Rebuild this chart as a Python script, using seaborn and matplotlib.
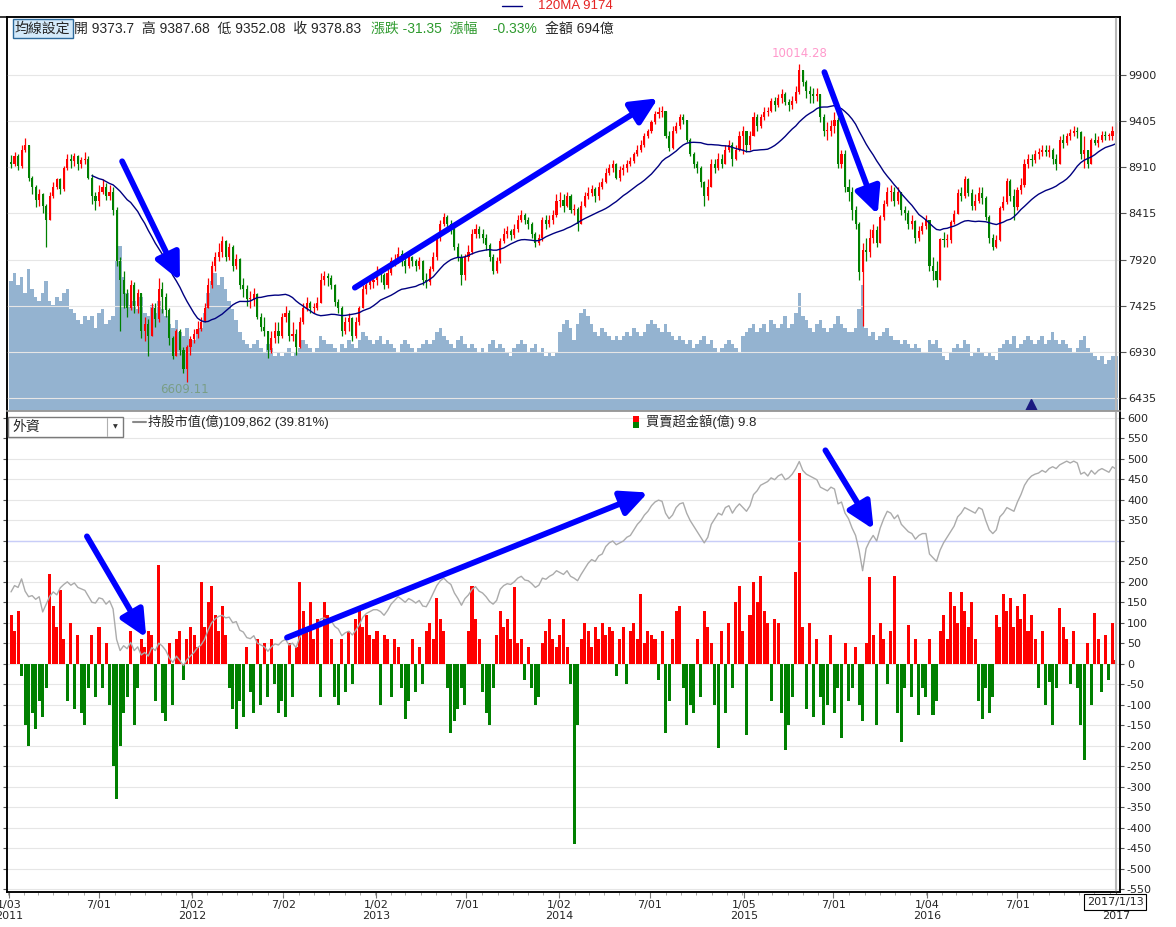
import numpy as np
import pandas as pd
import matplotlib
matplotlib.use("Agg")
import matplotlib.pyplot as plt
import matplotlib.dates as mdates
from matplotlib.patches import Rectangle
from matplotlib.lines import Line2D
import seaborn as sns

# --- weekly values (one entry per Friday) ---
first_open = 8972

close_2011 = [8950, 9030, 8930, 9100, 9150, 8800, 8700, 8560, 8620, 8500, 8350, 8600, 8700, 8780, 8680, 8900, 9000,
              8980, 9030, 8950, 8990, 9000, 8800, 8600, 8550, 8650, 8700, 8600, 8650, 8450, 7900, 7700, 7550, 7400,
              7650, 7420, 7560, 7150, 7230, 7100, 7400, 7280, 7600, 7520, 7380, 7080, 6880, 7150, 6950, 6750, 6980, 7070]
high_2011 = [9040, 9080, 9050, 9150, 9220, 9150, 8820, 8720, 8680, 8640, 8520, 8650, 8750, 8800, 8800, 8920, 9050,
             9050, 9060, 9040, 9020, 9070, 9030, 8840, 8650, 8720, 8780, 8740, 8720, 8700, 8480, 7950, 7800, 7600,
             7700, 7680, 7600, 7560, 7300, 7280, 7450, 7450, 7720, 7680, 7560, 7400, 7100, 7170, 7180, 6980, 7000, 7100]
low_2011 = [8900, 8920, 8880, 8900, 9080, 8760, 8620, 8480, 8500, 8420, 8050, 8350, 8580, 8680, 8620, 8660, 8880,
            8900, 8920, 8880, 8900, 8950, 8780, 8520, 8450, 8500, 8620, 8560, 8560, 8400, 7850, 7150, 7400, 7300,
            7380, 7350, 7350, 7080, 7050, 6880, 7100, 7200, 7250, 7350, 7300, 7000, 6850, 6880, 6900, 6700, 6609.11, 6900]
vol_2011 = [1650, 1750, 1600, 1700, 1500, 1800, 1550, 1450, 1400, 1500, 1650, 1400, 1350, 1450, 1400, 1500, 1550,
            1300, 1250, 1150, 1100, 1200, 1150, 1200, 1050, 1250, 1300, 1100, 1150, 1200, 1900, 2100, 1700, 1500,
            1350, 1400, 1300, 1450, 1250, 1200, 1350, 1250, 1400, 1300, 1200, 1100, 1050, 1150, 1000, 950, 1050, 900]
net_2011 = [120, 80, 130, -30, -150, -200, -120, -160, -90, -130, -60, 220, 140, 90, 180, 60, -90, 100, -110, 70,
            -120, -150, -60, 70, -80, 90, -60, 50, -100, -250, -330, -200, -120, -80, 80, -150, -60, 60, 40, 80, 70,
            -90, 240, -120, -140, 50, -100, 60, 80, -40, 60, 90]
hold_2011 = [76800, 78500, 78000, 80300, 77000, 75500, 75800, 74800, 75500, 71400, 73500, 75600, 76800, 76000, 77900,
             78800, 79500, 78600, 79200, 78000, 77600, 77200, 75600, 74000, 73800, 75200, 74900, 73500, 74400, 72200,
             64000, 61000, 62300, 61500, 63200, 61000, 62000, 59800, 60500, 59500, 61800, 61000, 63000, 62200, 61000,
             59000, 57800, 59500, 58300, 57000, 58500, 59600]

close_2012 = [7120, 7180, 7250, 7400, 7650, 7850, 7950, 8000, 8120, 7950, 8050, 7850, 7930, 7650, 7600, 7500, 7500,
              7550, 7300, 7200, 7150, 6950, 7080, 7150, 7100, 7300, 7350, 7100, 7120, 6980, 7250, 7400, 7450, 7400,
              7400, 7450, 7700, 7740, 7720, 7650, 7470, 7400, 7150, 7250, 7290, 7100, 7250, 7400, 7600, 7650, 7680, 7700]
high_2012 = [7180, 7260, 7300, 7450, 7720, 7900, 8000, 8100, 8170, 8130, 8100, 8080, 7980, 7940, 7720, 7650, 7580,
             7620, 7560, 7350, 7300, 7150, 7150, 7250, 7250, 7350, 7420, 7380, 7250, 7180, 7300, 7450, 7520, 7480,
             7450, 7520, 7780, 7800, 7780, 7760, 7660, 7500, 7420, 7300, 7350, 7300, 7300, 7420, 7650, 7720, 7720, 7740]
low_2012 = [7020, 7080, 7150, 7250, 7420, 7620, 7800, 7900, 7950, 7900, 7920, 7800, 7820, 7600, 7520, 7420, 7400,
            7420, 7280, 7150, 7100, 6860, 6920, 7020, 7020, 7080, 7250, 7050, 7050, 6900, 6970, 7230, 7370, 7350,
            7350, 7380, 7450, 7650, 7640, 7600, 7420, 7350, 7100, 7120, 7150, 7050, 7080, 7220, 7400, 7550, 7600, 7620]
vol_2012 = [900, 1000, 1050, 1250, 1500, 1650, 1750, 1600, 1700, 1550, 1400, 1300, 1150, 1000, 900, 850, 800, 850,
            900, 800, 750, 850, 800, 700, 750, 700, 750, 800, 700, 750, 800, 900, 850, 800, 750, 800, 950, 900, 850,
            850, 800, 750, 850, 800, 900, 850, 800, 900, 1000, 950, 900, 850]
net_2012 = [70, 40, 200, 90, 150, 190, 120, 80, 140, 70, -60, -110, -160, -90, -130, 40, -70, -120, 60, -100, 50,
            -80, 60, -50, -120, -90, -130, 50, -80, 40, 200, 130, 90, 150, 60, 110, -80, 150, 120, 60, -80, -100, 60,
            -70, 80, -50, 110, 140, 90, 120, 70, 60]
hold_2012 = [60500, 61800, 62500, 64000, 66500, 68500, 69500, 70200, 70500, 69800, 70000, 68500, 68800, 66500, 66000,
             64500, 64200, 65000, 63000, 62500, 62000, 60800, 62000, 62800, 62500, 63500, 64000, 62500, 63000, 61800,
             64500, 66000, 67000, 66500, 67200, 67800, 69500, 69800, 69200, 69000, 67500, 66800, 65000, 65800, 66200,
             65200, 66500, 68000, 70000, 71000, 71500, 72000]

close_2013 = [7800, 7760, 7650, 7780, 7900, 7920, 7980, 7900, 7850, 7950, 7900, 7850, 7900, 7700, 7680, 7820, 7950,
              8150, 8300, 8380, 8300, 8250, 8050, 7950, 7750, 7950, 8000, 8200, 8250, 8200, 8150, 8080, 7950, 7800,
              7900, 8120, 8200, 8230, 8180, 8250, 8350, 8400, 8350, 8300, 8200, 8100, 8150, 8350, 8300, 8350, 8400, 8550]
high_2013 = [7850, 7830, 7780, 7820, 7950, 7980, 8050, 8020, 7950, 7980, 7960, 7930, 7950, 7920, 7780, 7850, 8000,
             8200, 8350, 8420, 8400, 8350, 8280, 8100, 7980, 7980, 8080, 8250, 8300, 8280, 8250, 8200, 8100, 7980,
             7950, 8150, 8260, 8280, 8250, 8300, 8400, 8450, 8420, 8380, 8320, 8220, 8200, 8380, 8400, 8400, 8450, 8620]
low_2013 = [7650, 7680, 7600, 7620, 7760, 7850, 7880, 7850, 7780, 7830, 7850, 7800, 7820, 7650, 7620, 7650, 7800,
            7920, 8120, 8280, 8220, 8200, 8020, 7900, 7650, 7700, 7900, 7980, 8150, 8150, 8100, 8020, 7900, 7770,
            7780, 7880, 8100, 8150, 8130, 8150, 8220, 8320, 8300, 8250, 8150, 8050, 8080, 8120, 8250, 8270, 8300, 8380]
vol_2013 = [900, 950, 850, 900, 850, 800, 750, 850, 900, 850, 800, 750, 800, 850, 900, 850, 900, 1000, 1050, 950,
            900, 850, 800, 900, 950, 850, 800, 850, 800, 750, 800, 750, 850, 900, 800, 850, 800, 750, 700, 800, 850,
            900, 850, 750, 800, 850, 750, 800, 700, 750, 700, 750]
net_2013 = [80, -100, 70, 60, -80, 60, 40, -60, -135, -90, 60, -70, 40, -50, 80, 100, 60, 160, 110, 80, -60, -170,
            -140, -110, -60, -100, 80, 190, 110, 60, -70, -120, -150, -60, 70, 130, 90, 110, 60, 188, 50, 60, -40, 40,
            -60, -100, -80, 50, 80, 110, 60, 40]
hold_2013 = [72000, 71500, 70500, 71800, 73500, 74500, 75500, 74800, 74000, 75000, 74500, 73800, 74500, 73000, 72800,
             74500, 76500, 78500, 79800, 80500, 79500, 78800, 76500, 75000, 73200, 75000, 76000, 77500, 78200, 77000,
             76500, 75500, 74200, 73500, 74500, 77500, 78500, 79000, 78800, 79500, 80500, 81000, 80000, 79800, 79000,
             78000, 78600, 80500, 80200, 81000, 81500, 82500]

close_2014 = [8560, 8500, 8600, 8450, 8460, 8300, 8500, 8600, 8640, 8680, 8600, 8700, 8750, 8850, 8900, 8950, 8800,
              8880, 8900, 8950, 8980, 9050, 9100, 9150, 9250, 9300, 9400, 9480, 9500, 9520, 9250, 9120, 9300, 9350,
              9450, 9420, 9200, 9050, 8950, 8900, 8750, 8600, 8700, 8950, 8900, 9000, 8950, 9100, 9150, 9000, 9100, 9250]
high_2014 = [8650, 8620, 8650, 8620, 8520, 8480, 8550, 8650, 8700, 8720, 8700, 8750, 8800, 8900, 8950, 8990, 8960,
             8920, 8950, 8990, 9020, 9080, 9150, 9200, 9280, 9320, 9420, 9520, 9560, 9570, 9520, 9300, 9350, 9400,
             9480, 9480, 9420, 9220, 9080, 8980, 8920, 8760, 8780, 9000, 9000, 9060, 9050, 9150, 9200, 9180, 9150, 9300]
low_2014 = [8480, 8430, 8480, 8420, 8400, 8230, 8300, 8480, 8570, 8600, 8540, 8560, 8680, 8740, 8830, 8860, 8780,
            8760, 8830, 8860, 8920, 8960, 9030, 9080, 9130, 9220, 9280, 9380, 9440, 9450, 9220, 9090, 9110, 9280,
            9320, 9380, 9180, 9030, 8900, 8850, 8700, 8500, 8560, 8700, 8850, 8880, 8900, 8950, 9080, 8930, 8990, 9090]
vol_2014 = [1000, 1100, 1150, 1050, 900, 1100, 1250, 1300, 1200, 1100, 1000, 950, 1050, 1000, 950, 900, 950, 900,
            950, 1000, 950, 1050, 1000, 950, 1000, 1100, 1150, 1100, 1050, 1000, 1100, 1000, 950, 900, 950, 900, 850,
            900, 800, 850, 900, 950, 850, 900, 800, 750, 800, 850, 900, 850, 800, 750]
net_2014 = [70, 110, 40, -50, -440, -150, 60, 100, 80, 40, 90, 60, 100, 70, 90, 80, -30, 60, 90, -50, 80, 100, 60,
            170, 50, 80, 70, 60, -40, 80, -170, -90, 60, 130, 140, -60, -150, -100, -120, 60, -80, 130, 90, 50, -100,
            -205, 80, -120, 100, -60, 150, 190]
hold_2014 = [82000, 81500, 82500, 81000, 80500, 79800, 81500, 83000, 84500, 85500, 85000, 86500, 87000, 89000, 90000,
             90500, 89500, 90000, 90500, 91500, 92000, 93500, 95000, 96000, 97500, 98500, 100000, 101000, 101500,
             101200, 98000, 96500, 97500, 99500, 100500, 100800, 98000, 96000, 94500, 93000, 91500, 90000, 91500,
             95000, 96500, 98000, 97500, 99500, 100000, 98000, 99500, 100500]

close_2015 = [9300, 9150, 9250, 9450, 9350, 9450, 9500, 9520, 9620, 9580, 9650, 9700, 9610, 9580, 9620, 9720, 9950,
              9830, 9730, 9700, 9680, 9700, 9450, 9300, 9300, 9350, 9420, 8950, 9050, 8700, 8650, 8450, 8300, 7790,
              8020, 8000, 8150, 8240, 8100, 8380, 8520, 8650, 8650, 8550, 8650, 8450, 8420, 8300, 8330, 8150, 8230, 8280]
high_2015 = [9350, 9300, 9300, 9500, 9480, 9480, 9560, 9560, 9650, 9660, 9700, 9750, 9720, 9640, 9680, 9780,
             10014.28, 9960, 9850, 9780, 9760, 9760, 9700, 9480, 9400, 9420, 9500, 9450, 9100, 9100, 8780, 8700, 8500,
             8320, 8100, 8150, 8250, 8300, 8280, 8400, 8560, 8700, 8720, 8700, 8700, 8650, 8500, 8450, 8400, 8350,
             8280, 8320]
low_2015 = [9050, 9080, 9100, 9250, 9300, 9330, 9420, 9460, 9500, 9520, 9560, 9600, 9580, 9520, 9540, 9600, 9700,
            9780, 9650, 9600, 9600, 9620, 9400, 9250, 9200, 9250, 9280, 8900, 8900, 8650, 8550, 8350, 8250, 7700,
            7203, 7900, 7950, 8100, 8050, 8100, 8350, 8500, 8550, 8500, 8520, 8400, 8350, 8250, 8250, 8100, 8120, 8200]
vol_2015 = [950, 1000, 1050, 1100, 1000, 1050, 1100, 1000, 1150, 1100, 1050, 1100, 1200, 1050, 1100, 1250, 1500,
            1200, 1150, 1050, 1000, 1100, 1150, 1050, 1000, 1050, 1100, 1200, 1100, 1050, 1000, 1000, 1050, 1300,
            1600, 1050, 950, 1000, 900, 950, 1000, 1050, 950, 900, 900, 850, 900, 850, 800, 850, 800, 750]
net_2015 = [80, -175, 120, 200, 150, 215, 130, 100, -90, 110, 100, -120, -210, -150, -80, 225, 465, 90, -110, 100,
            -130, 60, -80, -150, -100, 70, -120, -60, -180, 50, -90, -60, 40, -100, -140, 50, 212, 70, -150, 100, 60,
            -50, 80, 215, -120, -190, -60, 95, -80, 60, -125, -60]
hold_2015 = [99500, 98500, 100000, 103000, 104000, 105500, 106000, 106500, 107500, 107000, 108000, 108500, 107000,
             107500, 108500, 110000, 111900, 109500, 108500, 108000, 107500, 107000, 105000, 104500, 104000, 105000,
             104500, 100500, 101000, 98000, 96500, 94000, 92000, 88000, 82500, 88500, 90500, 92000, 90500, 94000,
             96500, 98500, 98000, 96500, 97500, 95000, 94000, 93000, 92500, 91000, 92000, 92500]

close_2016 = [8340, 7850, 7800, 7700, 8140, 8130, 8130, 8320, 8410, 8640, 8600, 8780, 8630, 8500, 8550, 8640, 8580,
              8380, 8150, 8050, 8130, 8470, 8540, 8760, 8600, 8480, 8670, 8720, 8950, 9000, 8990, 9050, 9070, 9100,
              9080, 9100, 9000, 8950, 9200, 9170, 9250, 9280, 9300, 9290, 9050, 9100, 8950, 9200, 9170, 9200, 9260,
              9250, 9250]
high_2016 = [8400, 8300, 7950, 7900, 8150, 8220, 8200, 8350, 8450, 8680, 8700, 8820, 8800, 8680, 8620, 8700, 8700,
             8600, 8400, 8200, 8180, 8500, 8600, 8800, 8780, 8680, 8700, 8800, 9000, 9050, 9050, 9100, 9120, 9150,
             9150, 9150, 9120, 9050, 9250, 9270, 9280, 9320, 9350, 9340, 9300, 9250, 9100, 9230, 9280, 9250, 9300,
             9300, 9280]
low_2016 = [8250, 7800, 7700, 7627, 7700, 8050, 8050, 8100, 8300, 8420, 8550, 8580, 8600, 8450, 8450, 8530, 8520,
            8350, 8100, 8020, 8040, 8120, 8450, 8520, 8550, 8350, 8450, 8620, 8700, 8900, 8930, 8960, 9000, 9030,
            9030, 9020, 8950, 8880, 8950, 9120, 9150, 9200, 9250, 9230, 9000, 8900, 8900, 8950, 9150, 9130, 9180,
            9200, 9200]
vol_2016 = [750, 900, 850, 900, 800, 700, 650, 750, 800, 850, 800, 900, 850, 700, 750, 800, 750, 700, 750, 700, 650,
            800, 850, 900, 850, 950, 800, 850, 900, 950, 900, 850, 900, 950, 850, 900, 1000, 900, 850, 900, 850, 800,
            750, 800, 900, 950, 800, 750, 700, 650, 700, 600, 650]
net_2016 = [-80, 60, -125, -90, 80, 120, 60, 175, 140, 100, 175, 130, 90, 150, 60, -90, -135, -60, -120, -80, 120,
            90, 170, 130, 160, 90, 140, 110, 170, 80, 120, 60, -60, 80, -100, -45, -150, -60, 135, 90, 60, -50, 80,
            -60, -150, -235, 50, -100, 125, 60, -70, 70, -40]
hold_2016 = [92500, 87000, 86000, 85000, 88000, 90000, 91500, 93000, 94500, 97000, 98000, 99500, 99000, 98500,
             98000, 99500, 99000, 96000, 93500, 92500, 93500, 97000, 98000, 99500, 99000, 98500, 101000, 103000,
             105500, 107000, 108000, 108500, 108800, 109500, 109000, 110000, 110500, 110000, 111000, 111500, 112000,
             111500, 112000, 111500, 108500, 109000, 108000, 109500, 108500, 109500, 110000, 109500, 109000]

close_2017 = [9300, 9378.83]
high_2017 = [9350, 9400]
low_2017 = [9200, 9280]
vol_2017 = [700, 694]
net_2017 = [100, 9.8]
hold_2017 = [110500, 109862]

# x axis labels of the original chart
tick_dates = ["2011-01-03", "2011-07-01", "2012-01-02", "2012-07-02", "2013-01-02", "2013-07-01", "2014-01-02",
              "2014-07-01", "2015-01-05", "2015-07-01", "2016-01-04", "2016-07-01", "2017-01-13"]
tick_labels = ["1/03\n2011", "7/01", "1/02\n2012", "7/02", "1/02\n2013", "7/01", "1/02\n2014", "7/01",
               "1/05\n2015", "7/01", "1/04\n2016", "7/01", "\n2017"]
price_ticks = [6435, 6930, 7425, 7920, 8415, 8910, 9405, 9900]
net_ticks = [600, 550, 500, 450, 400, 350, 300, 250, 200, 150, 100, 50, 0, -50, -100, -150, -200, -250, -300,
             -350, -400, -450, -500, -550]
signal_date = "2016-07-27"

# --- assemble ---
weeks = pd.date_range("2011-01-07", "2017-01-13", freq="W-FRI")
df = pd.DataFrame({
    "date": weeks,
    "close": close_2011 + close_2012 + close_2013 + close_2014 + close_2015 + close_2016 + close_2017,
    "high": high_2011 + high_2012 + high_2013 + high_2014 + high_2015 + high_2016 + high_2017,
    "low": low_2011 + low_2012 + low_2013 + low_2014 + low_2015 + low_2016 + low_2017,
    "vol": vol_2011 + vol_2012 + vol_2013 + vol_2014 + vol_2015 + vol_2016 + vol_2017,
    "net": net_2011 + net_2012 + net_2013 + net_2014 + net_2015 + net_2016 + net_2017,
    "hold": hold_2011 + hold_2012 + hold_2013 + hold_2014 + hold_2015 + hold_2016 + hold_2017,
})
df["open"] = df["close"].shift(1).fillna(first_open)
df["high"] = np.maximum(df["high"], df[["open", "close"]].max(axis=1))
df["low"] = np.minimum(df["low"], df[["open", "close"]].min(axis=1))
df["ma120"] = df["close"].rolling(24).mean()  # 120 trading days ~ 24 weeks

RED, GREEN = "#ff0000", "#008000"

# --- figure ---
sns.set_theme(style="white")
plt.rcParams["font.family"] = ["DejaVu Sans", "Noto Sans CJK TC"]
hdr_font = ["Liberation Sans", "Noto Sans CJK TC"]

W, H = 1176, 927
fig = plt.figure(figsize=(W / 100, H / 100), dpi=100)


def fx(px):
    return px / W


def fy(py):
    return 1 - py / H


def box(x0, y0, x1, y1):
    return [fx(x0), fy(y1), (x1 - x0) / W, (y1 - y0) / H]


ax_vol = fig.add_axes(box(7, 17, 1120, 411))
ax_px = ax_vol.twinx()
ax_net = fig.add_axes(box(7, 411, 1120, 892), sharex=ax_vol)
ax_hold = ax_net.twinx()

# volume (hidden scale)
ax_vol.bar(df["date"], df["vol"], width=7, color="#94b3d0", linewidth=0)
ax_vol.set_ylim(0, 5000)
ax_vol.set_yticks([])

# candles
up = df["close"] >= df["open"]
cols = np.where(up, RED, GREEN)
ax_px.vlines(df["date"], df["low"], df["high"], colors=cols, linewidth=0.9)
body = (df["close"] - df["open"]).abs().clip(lower=8)
ax_px.bar(df["date"], body, bottom=df[["open", "close"]].min(axis=1), width=4.2, color=cols, linewidth=0)
sns.lineplot(data=df, x="date", y="ma120", ax=ax_px, color="#000080", linewidth=1)
ax_px.set_ylim(6295, 10524)
ax_px.set_yticks(price_ticks)
ax_px.set_yticklabels([str(t) for t in price_ticks])
ax_px.grid(axis="y", color="#e6e6e6", linewidth=0.8)
ax_px.set_xlabel("")
ax_px.set_ylabel("")

imax = df["high"].idxmax()
ax_px.annotate(f"{df.loc[imax, 'high']:.2f}", xy=(mdates.date2num(df.loc[imax, "date"]), df.loc[imax, "high"]),
               xytext=(0, 3), textcoords="offset points", ha="center", va="bottom", fontsize=8.5, color="#ff99cc")
imin = df["low"].idxmin()
ax_px.annotate(f"{df.loc[imin, 'low']:.2f}", xy=(mdates.date2num(df.loc[imin, "date"]), df.loc[imin, "low"]),
               xytext=(-2, -1), textcoords="offset points", ha="center", va="top", fontsize=8.5, color="#7a9e86")
ax_px.plot([mdates.date2num(pd.Timestamp(signal_date))], [0.015], marker="^", ms=8, color="#1a1a80",
           transform=ax_px.get_xaxis_transform(), clip_on=False)

# foreign net buy / sell
ncol = np.where(df["net"] >= 0, RED, GREEN)
ax_net.bar(df["date"], df["net"], width=6, color=ncol, linewidth=0)
ax_net.set_ylim(-557, 617)
ax_net.set_yticks(net_ticks)
ax_net.set_yticklabels(["" if t == 300 else str(t) for t in net_ticks])
ax_net.yaxis.tick_right()
ax_net.tick_params(axis="y", left=True, right=True, labelleft=False, labelright=True)
ax_net.grid(axis="y", color="#e6e6e6", linewidth=0.8)
ax_net.set_axisbelow(True)
ax_net.axhline(300, color="#c8cdf8", linewidth=1)

# holdings line (hidden scale)
sns.lineplot(data=df, x="date", y="hold", ax=ax_hold, color="#ababab", linewidth=1)
ax_hold.set_ylim(-4000, 125500)
ax_hold.set_yticks([])
ax_hold.set_xlabel("")
ax_hold.set_ylabel("")

# x axis
ax_net.set_xlim(pd.Timestamp("2010-12-30"), pd.Timestamp("2017-01-21"))
ax_net.set_xticks(pd.to_datetime(tick_dates))
ax_net.set_xticklabels(tick_labels)
ax_net.xaxis.set_minor_locator(mdates.MonthLocator())
ax_net.tick_params(axis="x", which="major", bottom=True, length=4, width=0.8, color="#777777", pad=1.5,
                   labelsize=8)
ax_net.tick_params(axis="x", which="minor", bottom=True, length=2.5, width=0.6, color="#999999")
ax_vol.tick_params(axis="x", which="both", bottom=False, labelbottom=False)
ax_net.set_xlabel("")

for a in (ax_px, ax_net):
    a.tick_params(axis="y", which="major", length=4, width=0.8, color="#555555", pad=2, labelsize=8)
ax_net.tick_params(axis="y", which="major", left=True, length=3)

for a in (ax_vol, ax_px, ax_net, ax_hold):
    for s in a.spines.values():
        s.set_color("black")
        s.set_linewidth(1.1)
ax_vol.spines["bottom"].set_color("#999999")
ax_px.spines["bottom"].set_color("#999999")
ax_net.spines["top"].set_color("#999999")
ax_hold.spines["top"].set_color("#999999")

# current date cursor
last = mdates.date2num(df["date"].iloc[-1])
ax_px.axvline(last, color="#b8b8b8", linewidth=1.5)
ax_hold.axvline(last, color="#b8b8b8", linewidth=1.5)

# trend arrows
arrow_kw = dict(arrowstyle="-|>,head_length=0.8,head_width=0.38", mutation_scale=20, lw=4.2, color="#0000ff",
                shrinkA=0, shrinkB=0)
top_arrows = [(("2011-08-16", 8975), ("2011-12-09", 7694)),
              (("2012-11-21", 7619), ("2014-07-17", 9652)),
              (("2015-06-13", 9932), ("2015-09-27", 8404))]
bottom_arrows = [(("2011-06-07", 311), ("2011-10-03", 64)),
                 (("2012-07-09", 64), ("2014-06-27", 418)),
                 (("2015-06-15", 521), ("2015-09-19", 328))]
for (d0, v0), (d1, v1) in top_arrows:
    ax_px.annotate("", xy=(mdates.date2num(pd.Timestamp(d1)), v1),
                   xytext=(mdates.date2num(pd.Timestamp(d0)), v0), arrowprops=arrow_kw, zorder=10)
for (d0, v0), (d1, v1) in bottom_arrows:
    ax_hold.annotate("", xy=(mdates.date2num(pd.Timestamp(d1)), v1),
                     xytext=(mdates.date2num(pd.Timestamp(d0)), v0),
                     xycoords=ax_net.transData, textcoords=ax_net.transData, arrowprops=arrow_kw, zorder=10)

# --- header texts ---
fig.add_artist(Line2D([0, fx(7)], [fy(17), fy(17)], color="black", lw=1.1))
fig.add_artist(Line2D([fx(502), fx(522)], [fy(6), fy(6)], color="#000080", lw=1))
fig.text(fx(538), fy(6), "120MA 9174", color="#e52222", fontsize=9.5, va="center", family=hdr_font)

fig.text(fx(15), fy(28.5), "均線設定", fontsize=10, va="center", family=hdr_font,
         bbox=dict(boxstyle="square,pad=0.18", fc="#d4eafa", ec="#2c6a9c", lw=1))
fig.text(fx(74), fy(28.5), "開 9373.7  高 9387.68  低 9352.08  收 9378.83", fontsize=10, va="center",
         family=hdr_font)
fig.text(fx(371), fy(28.5), "漲跌 -31.35  漲幅    -0.33%", fontsize=10, va="center", color="#2e9a2e",
         family=hdr_font)
fig.text(fx(545), fy(28.5), "金額 694億", fontsize=10, va="center", family=hdr_font)

fig.add_artist(Rectangle((fx(8), fy(437)), 115 / W, 20 / H, transform=fig.transFigure, fc="white",
                         ec="#7a7a7a", lw=1))
fig.add_artist(Line2D([fx(107), fx(107)], [fy(418), fy(436)], color="#b0b0b0", lw=0.8))
fig.text(fx(12), fy(427), "外資", fontsize=10, va="center", family=hdr_font)
fig.text(fx(115), fy(427), "▼", fontsize=4.5, va="center", ha="center", color="#333333")
fig.add_artist(Line2D([fx(133), fx(146)], [fy(422), fy(422)], color="#8a8a8a", lw=1.5))
fig.text(fx(148), fy(422), "持股市值(億)109,862 (39.81%)", fontsize=9.5, va="center", family=hdr_font)
fig.add_artist(Rectangle((fx(633), fy(422)), 6 / W, 6 / H, transform=fig.transFigure, fc=RED, ec="none"))
fig.add_artist(Rectangle((fx(633), fy(428)), 6 / W, 6 / H, transform=fig.transFigure, fc=GREEN, ec="none"))
fig.text(fx(646), fy(422), "買賣超金額(億) 9.8", fontsize=9.5, va="center", family=hdr_font)

fig.text(fx(1115), fy(902), "2017/1/13", fontsize=8, ha="center", va="center",
         bbox=dict(boxstyle="square,pad=0.25", fc="white", ec="black", lw=0.8))

fig.savefig("out.png", dpi=100)
